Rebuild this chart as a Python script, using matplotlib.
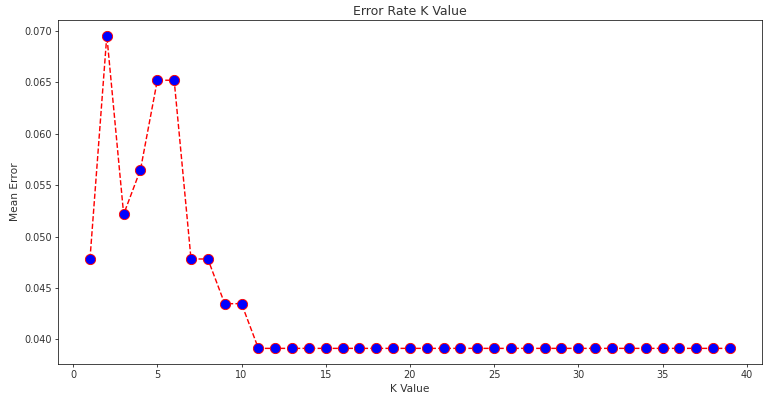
import matplotlib
matplotlib.use('Agg')
from matplotlib import pyplot as plt

# error rate for each K (test set of 230 samples)
k_values = list(range(1, 40))
error = [11 / 230, 16 / 230, 12 / 230, 13 / 230, 15 / 230, 15 / 230,
         11 / 230, 11 / 230, 10 / 230, 10 / 230] + [9 / 230] * 29

plt.figure(figsize=(12, 398 / 64), dpi=64)
plt.plot(k_values, error, color='red', linestyle='dashed', marker='o',
         markerfacecolor='blue', markersize=11.5, linewidth=1.6)
plt.title('Error Rate K Value', fontsize=14, color='#333333')
plt.xlabel('K Value', fontsize=12, color='#333333')
plt.ylabel('Mean Error', fontsize=12, color='#333333')
plt.xticks(fontsize=11, color='#333333')
plt.yticks(fontsize=11, color='#333333')
plt.subplots_adjust(left=0.0755, right=0.992, top=0.95, bottom=0.0854)
plt.savefig('out.png', dpi=64)
plt.close()
